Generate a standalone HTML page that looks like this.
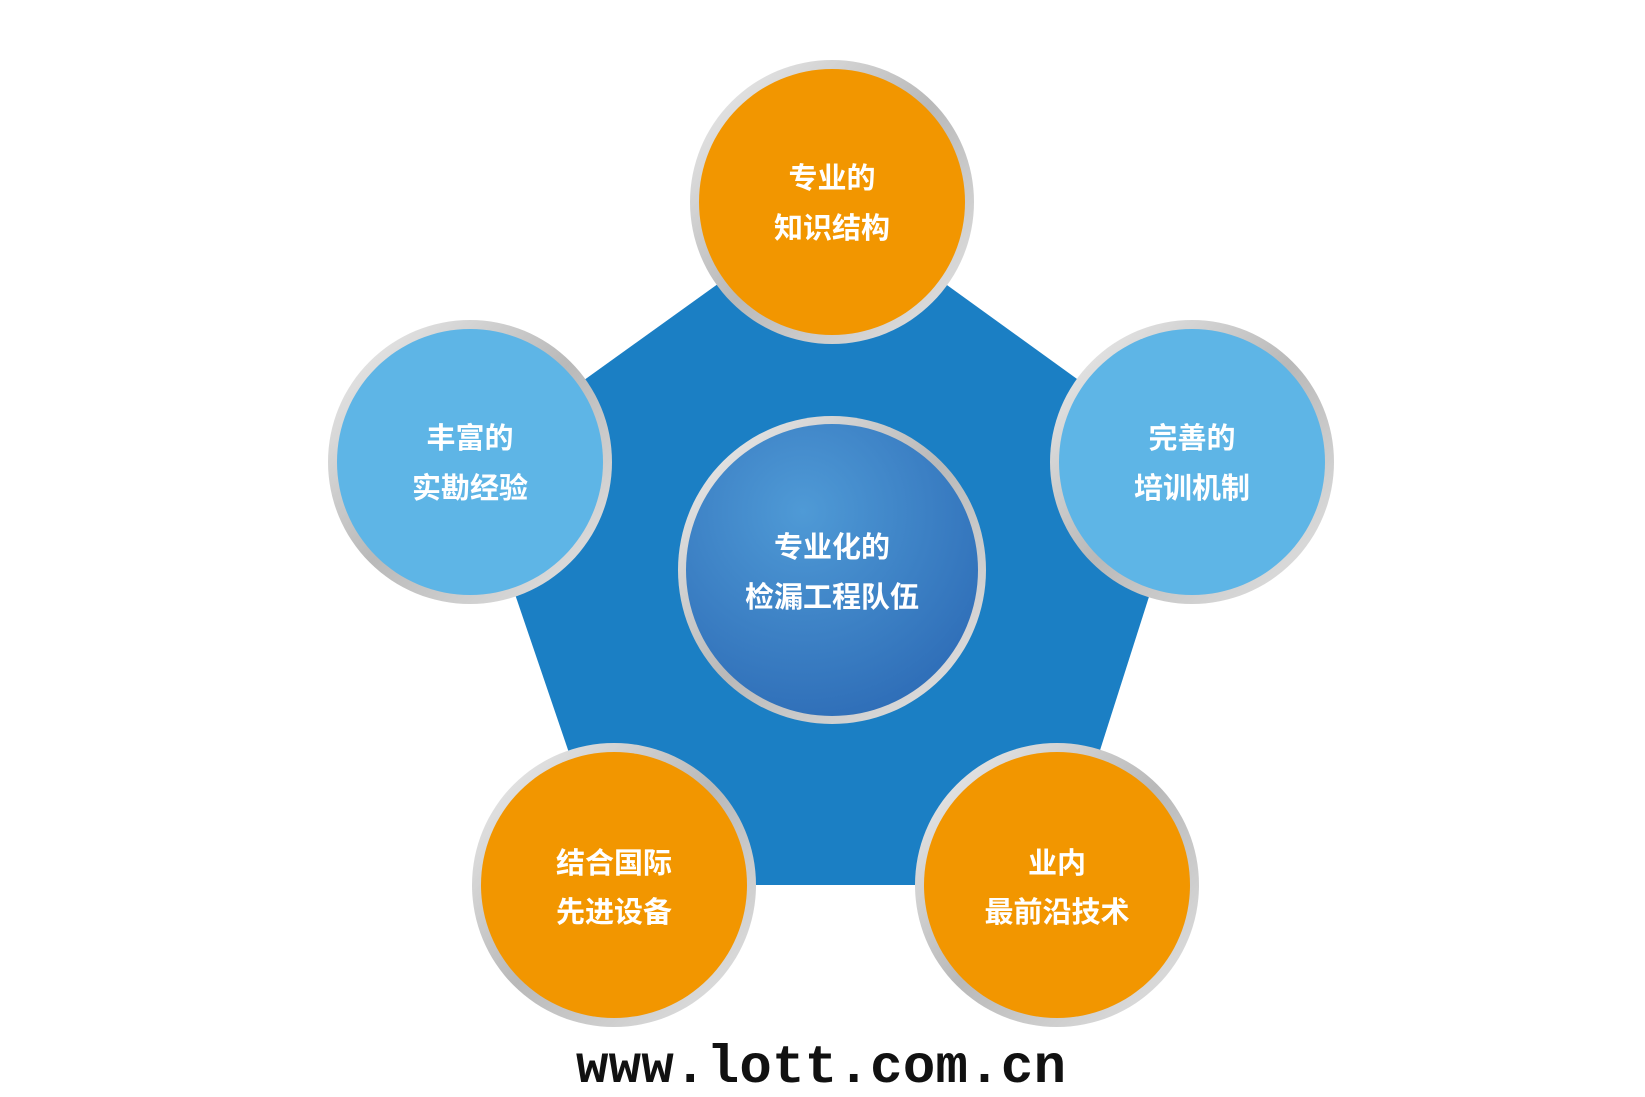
<!DOCTYPE html>
<html><head><meta charset="utf-8"><style>
html,body{margin:0;padding:0;background:#fff;width:1645px;height:1097px;overflow:hidden}
svg{display:block}
text{font-family:"Liberation Sans","Noto Sans CJK SC",sans-serif;font-weight:bold;fill:#fff;text-anchor:middle}
</style></head><body>
<svg width="1645" height="1097" viewBox="0 0 1645 1097">
<defs>
<linearGradient id="rim" x1="0" y1="0" x2="1" y2="1">
<stop offset="0" stop-color="#f0f0f0"/><stop offset="0.5" stop-color="#b9b9b9"/><stop offset="1" stop-color="#e6e6e6"/>
</linearGradient>
<radialGradient id="cg" cx="0.4" cy="0.3" r="0.75">
<stop offset="0" stop-color="#4f9ad6"/><stop offset="1" stop-color="#2e6db7"/>
</radialGradient>
</defs>
<polygon points="832,202 1192,462 1057,885 614,885 470,462" fill="#1b7fc4"/>
<g>
<circle cx="832" cy="202" r="142" fill="url(#rim)"/><circle cx="832" cy="202" r="133" fill="#f29600"/>
<circle cx="470" cy="462" r="142" fill="url(#rim)"/><circle cx="470" cy="462" r="133" fill="#5eb5e6"/>
<circle cx="1192" cy="462" r="142" fill="url(#rim)"/><circle cx="1192" cy="462" r="133" fill="#5eb5e6"/>
<circle cx="614" cy="885" r="142" fill="url(#rim)"/><circle cx="614" cy="885" r="133" fill="#f29600"/>
<circle cx="1057" cy="885" r="142" fill="url(#rim)"/><circle cx="1057" cy="885" r="133" fill="#f29600"/>
<circle cx="832" cy="570" r="154" fill="url(#rim)"/><circle cx="832" cy="570" r="146" fill="url(#cg)"/>
</g>
<g font-size="29">
<text x="832" y="188">专业的</text><text x="832" y="238">知识结构</text>
<text x="470" y="448">丰富的</text><text x="470" y="498">实勘经验</text>
<text x="1192" y="448">完善的</text><text x="1192" y="498">培训机制</text>
<text x="832" y="557">专业化的</text><text x="832" y="607">检漏工程队伍</text>
<text x="614" y="873">结合国际</text><text x="614" y="922">先进设备</text>
<text x="1057" y="873">业内</text><text x="1057" y="922">最前沿技术</text>
</g>
<text x="821" y="1082" font-size="54" style="font-family:'Liberation Mono',monospace;fill:#111" textLength="490">www.lott.com.cn</text>
</svg>
</body></html>
